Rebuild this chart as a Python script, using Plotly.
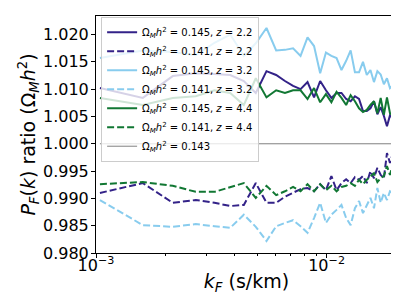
import plotly.graph_objects as go

# wavenumbers (s/km)
k_F = [0.00104 + 0.000556 * i for i in range(35)]

ratio_145_z22 = [1.0102, 1.0084, 1.0124, 1.0129, 1.0128, 1.0126, 1.0115, 1.0093, 1.0133, 1.0126,
                 1.0115, 1.0106, 1.0100, 1.0113, 1.0085, 1.0115, 1.0098, 1.0084, 1.0093, 1.0093,
                 1.0082, 1.0078, 1.0087, 1.0082, 1.0060, 1.0060, 1.0065, 1.0078, 1.0054, 1.0067,
                 1.0051, 1.0032, 1.0052, 1.0047, 1.0043]
ratio_141_z22 = [0.9910, 0.9928, 0.9892, 0.9897, 0.9892, 0.9886, 0.9888, 0.9928, 0.9892, 0.9892,
                 0.9903, 0.9910, 0.9917, 0.9919, 0.9913, 0.9926, 0.9915, 0.9941, 0.9915, 0.9928,
                 0.9935, 0.9928, 0.9939, 0.9934, 0.9941, 0.9928, 0.9950, 0.9937, 0.9956, 0.9943,
                 0.9937, 0.9983, 0.9965, 0.9983, 0.9970]
ratio_145_z32 = [1.0157, 1.0171, 1.0168, 1.0162, 1.0185, 1.0200, 1.0161, 1.0184, 1.0212, 1.0171,
                 1.0172, 1.0175, 1.0161, 1.0195, 1.0179, 1.0129, 1.0167, 1.0161, 1.0157, 1.0135,
                 1.0152, 1.0171, 1.0131, 1.0131, 1.0150, 1.0126, 1.0135, 1.0113, 1.0133, 1.0127,
                 1.0109, 1.0120, 1.0102, 1.0107, 1.0100]
ratio_141_z32 = [0.9897, 0.9851, 0.9848, 0.9853, 0.9849, 0.9846, 0.9870, 0.9848, 0.9822, 0.9849,
                 0.9855, 0.9860, 0.9849, 0.9837, 0.9864, 0.9892, 0.9855, 0.9870, 0.9879, 0.9888,
                 0.9864, 0.9851, 0.9882, 0.9895, 0.9873, 0.9886, 0.9901, 0.9882, 0.9919, 0.9892,
                 0.9910, 0.9897, 0.9913, 0.9910, 0.9893]
ratio_145_z44 = [1.0084, 1.0071, 1.0084, 1.0087, 1.0098, 1.0093, 1.0071, 1.0120, 1.0085, 1.0098,
                 1.0093, 1.0098, 1.0098, 1.0082, 1.0102, 1.0076, 1.0091, 1.0076, 1.0095, 1.0084,
                 1.0071, 1.0089, 1.0078, 1.0065, 1.0058, 1.0062, 1.0071, 1.0078, 1.0056, 1.0084,
                 1.0053, 1.0085, 1.0056, 1.0051, 1.0085]
ratio_141_z44 = [0.9926, 0.9930, 0.9923, 0.9912, 0.9912, 0.9921, 0.9928, 0.9901, 0.9923, 0.9906,
                 0.9913, 0.9921, 0.9913, 0.9926, 0.9913, 0.9926, 0.9915, 0.9923, 0.9913, 0.9921,
                 0.9923, 0.9928, 0.9923, 0.9934, 0.9926, 0.9934, 0.9941, 0.9946, 0.9930, 0.9937,
                 0.9941, 0.9959, 0.9943, 0.9963, 0.9952]
ratio_143 = [1.0] * len(k_F)

x_tickvals = [1e-3, 1e-2]
x_ticktext = ["10<sup>−3</sup>", "10<sup>−2</sup>"]
x_minor = [2e-3, 3e-3, 4e-3, 5e-3, 6e-3, 7e-3, 8e-3, 9e-3, 2e-2]
y_tickvals = [0.980, 0.985, 0.990, 0.995, 1.000, 1.005, 1.010, 1.015, 1.020]

INDIGO = "#332288"
CYAN = "#88CCEE"
GREEN = "#117733"
DASH = "7px,3px"

def lab(om, z):
    s = "Ω<sub><i>M</i></sub><i>h</i><sup>2</sup> = " + om
    if z is not None:
        s += ", <i>z</i> = " + z
    return s

series = [
    (ratio_145_z22, INDIGO, "solid", lab("0.145", "2.2")),
    (ratio_141_z22, INDIGO, DASH, lab("0.141", "2.2")),
    (ratio_145_z32, CYAN, "solid", lab("0.145", "3.2")),
    (ratio_141_z32, CYAN, DASH, lab("0.141", "3.2")),
    (ratio_145_z44, GREEN, "solid", lab("0.145", "4.4")),
    (ratio_141_z44, GREEN, DASH, lab("0.141", "4.4")),
]

fig = go.Figure()
for i, (vals, col, dash, name) in enumerate(series):
    fig.add_trace(go.Scatter(x=k_F, y=vals, mode="lines", name=name, legendgroup=f"g{i}",
                             line=dict(color=col, width=2, dash=dash)))
fig.add_trace(go.Scatter(x=k_F, y=ratio_143, mode="lines", name=lab("0.143", None),
                         legendgroup="g6", line=dict(color="#808080", width=1)))

fig.update_layout(
    width=399, height=299,
    margin=dict(l=88, r=10, t=8, b=54),
    paper_bgcolor="white", plot_bgcolor="white",
    font=dict(family="DejaVu Sans", size=16, color="black"),
    legend=dict(x=0.017, y=0.997, xanchor="left", yanchor="top",
                bgcolor="rgba(255,255,255,0.8)", bordercolor="#cccccc", borderwidth=1,
                font=dict(size=10), tracegroupgap=0, itemwidth=30),
    showlegend=True,
)
fig.update_xaxes(type="log", range=[-3, -1.6946], showgrid=False, zeroline=False,
                 showline=True, linecolor="black", linewidth=1, mirror=True,
                 ticks="outside", ticklen=4, tickcolor="black", automargin=False,
                 tickvals=x_tickvals, ticktext=x_ticktext, ticklabelstandoff=-6,
                 minor=dict(tickvals=x_minor, ticks="outside", ticklen=2, tickcolor="black"),
                 title=dict(text="<i>k</i><sub><i>F</i></sub> (s/km)", standoff=0))
fig.update_yaxes(range=[0.980, 1.0234], showgrid=False, zeroline=False,
                 showline=True, linecolor="black", linewidth=1, mirror=True,
                 ticks="outside", ticklen=4, tickcolor="black", automargin=False,
                 tickvals=y_tickvals, tickformat=".3f", ticklabelstandoff=-1,
                 title=dict(text="<i>P</i><sub><i>F</i></sub>(<i>k</i>) ratio (Ω<sub><i>M</i></sub><i>h</i><sup>2</sup>)", standoff=2))

fig.write_html("out.html")
